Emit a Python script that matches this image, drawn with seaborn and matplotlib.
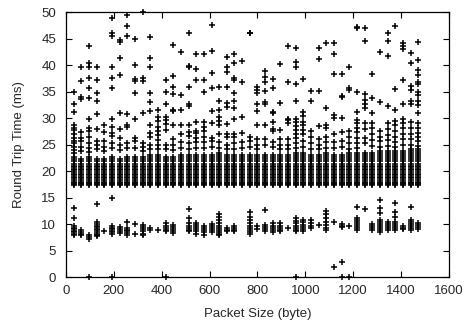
import matplotlib
matplotlib.use("Agg")
import matplotlib.pyplot as plt
import pandas as pd
import seaborn as sns

# Probe packet sizes (bytes), one column of measurements per size
sizes = [32, 64, 96, 128, 160, 192, 224, 256, 288, 320, 352, 384, 416, 448,
         480, 512, 544, 576, 608, 640, 672, 704, 736, 768, 800, 832, 864, 896,
         928, 960, 992, 1024, 1056, 1088, 1120, 1152, 1184, 1216, 1248, 1280,
         1312, 1344, 1376, 1408, 1440, 1472]

# RTT levels (ms) populated inside the dense main band
band_levels = [17.4, 17.6, 17.8, 18.0, 18.3, 18.6, 18.9, 19.2, 19.5, 19.8,
               20.1, 20.4, 20.7, 21.0, 21.4, 21.8, 22.2, 22.6, 23.0, 23.4,
               23.8, 24.2]

# Upper edge of the dense band for each packet size (ms)
band_top = [22.6, 22.4, 22.6, 22.5, 22.4, 22.6, 22.5, 22.8, 22.6, 22.8,
            23.0, 23.0, 22.8, 22.8, 23.0, 23.0, 23.2, 23.0, 23.2, 23.4,
            23.0, 23.2, 23.0, 23.0, 23.2, 23.0, 23.2, 23.0, 23.2, 23.4,
            23.4, 23.2, 23.0, 23.4, 23.2, 23.2, 23.4, 23.6, 23.6, 23.6,
            24.0, 23.8, 24.0, 24.0, 24.2, 24.4]

# Sparse delayed samples above the band (ms)
upper_rtt = [
    [35.0, 32.6, 31.2, 28.6, 28.2, 27.8, 26.9, 26.2, 25.6, 25.2, 24.6, 24.0, 23.4],
    [39.7, 36.9, 34.0, 33.5, 27.4, 26.2, 25.6, 24.6, 23.8],
    [43.6, 40.4, 39.7, 37.6, 35.7, 33.7, 29.8, 28.2, 27.5, 26.5, 25.2, 24.4, 23.6],
    [39.7, 37.1, 34.7, 33.3, 30.7, 27.9, 25.7, 25.0, 24.2],
    [28.7, 27.4, 25.6, 24.6, 23.8],
    [48.8, 46.0, 45.5, 39.6, 37.6, 35.6, 29.9, 28.3, 27.2, 26.6, 25.2, 24.4],
    [44.8, 44.4, 41.4, 38.1, 31.0, 28.0, 26.3, 25.0, 24.0],
    [49.4, 47.4, 45.5, 30.8, 28.7, 28.3, 25.2, 24.4],
    [45.0, 40.0, 37.3, 37.0, 34.7, 29.8, 26.2, 25.6, 24.4],
    [50.0, 37.5, 37.0, 30.9, 25.2, 24.6, 23.8],
    [45.2, 41.4, 39.6, 34.7, 33.1, 31.4, 28.7, 27.2, 26.5, 25.0, 24.2],
    [31.6, 30.1, 29.4, 28.3, 27.5, 26.8, 25.8, 25.0, 24.2],
    [37.2, 35.0, 32.7, 30.2, 29.6, 28.8, 27.8, 25.0, 24.2],
    [43.8, 37.9, 35.8, 34.6, 31.6, 31.3, 28.7, 26.0, 25.0, 24.0],
    [42.5, 34.4, 31.6, 28.7, 27.0, 25.4, 24.4],
    [46.0, 39.8, 39.6, 35.9, 32.6, 32.2, 28.6, 27.4, 26.6, 25.2, 24.2],
    [42.1, 39.3, 37.1, 29.3, 27.6, 27.2, 26.2, 25.5, 24.4],
    [42.1, 37.1, 34.9, 29.3, 28.3, 27.6, 26.4, 25.5, 24.4],
    [47.6, 42.7, 38.4, 35.7, 31.4, 29.1, 26.2, 25.6, 24.6],
    [35.8, 33.3, 31.6, 30.2, 29.4, 28.7, 27.0, 25.4, 24.4],
    [41.6, 39.7, 38.6, 35.8, 32.9, 32.0, 28.9, 27.0, 26.4, 25.0, 24.2],
    [42.1, 40.4, 37.5, 37.1, 34.8, 33.3, 31.9, 29.9, 27.0, 26.4, 25.2, 24.2],
    [40.7, 36.7, 30.1, 27.1, 25.4, 24.4],
    [46.1, 46.0, 26.5, 25.6, 24.6],
    [35.8, 35.3, 34.8, 32.6, 31.4, 28.7, 26.0, 25.0, 24.2],
    [38.9, 37.7, 36.7, 35.1, 33.1, 32.6, 28.6, 26.0, 25.0],
    [37.3, 35.7, 31.2, 30.9, 29.3, 27.9, 27.6, 25.5, 24.5],
    [40.2, 32.9, 27.8, 26.0, 25.0, 24.2],
    [43.6, 36.7, 29.9, 29.6, 29.0, 26.0, 25.0, 24.2],
    [43.2, 40.5, 39.7, 36.4, 33.3, 29.9, 29.3, 28.4, 27.8, 27.0, 26.2, 25.2, 24.4],
    [37.3, 31.1, 30.3, 29.3, 28.7, 27.7, 27.0, 25.6, 24.6],
    [35.1, 33.2, 27.6, 26.5, 25.2, 24.2],
    [43.3, 41.2, 35.1, 28.5, 26.0, 25.0, 24.2],
    [44.1, 31.8, 28.7, 28.1, 26.5, 25.4, 24.4],
    [44.1, 42.0, 38.3, 30.6, 30.0, 27.0, 25.4, 24.4],
    [38.3, 34.2, 33.9, 30.0, 27.3, 25.6, 24.6],
    [39.7, 35.6, 35.3, 27.6, 26.5, 25.2, 24.2],
    [47.2, 46.9, 35.0, 31.2, 29.6, 29.0, 28.2, 27.4, 26.2, 25.2, 24.4],
    [46.9, 44.5, 34.6, 33.4, 32.6, 31.8, 29.0, 27.9, 26.2, 25.2],
    [38.3, 33.7, 31.0, 29.0, 28.1, 27.0, 25.8, 24.8],
    [42.5, 33.1, 27.6, 26.5, 25.6, 24.6],
    [46.1, 44.6, 41.7, 32.2, 29.0, 27.9, 26.8, 25.8, 24.8],
    [47.3, 35.4, 31.6, 29.5, 28.7, 27.5, 26.5, 25.5, 24.6],
    [44.1, 43.6, 43.0, 37.1, 32.7, 29.9, 29.0, 28.1, 27.0, 26.0, 25.0],
    [42.3, 40.4, 36.0, 35.2, 33.2, 32.7, 29.3, 28.1, 27.0, 26.0, 25.0],
    [44.4, 40.9, 39.0, 38.1, 36.8, 36.4, 34.9, 34.3, 33.2, 32.4, 30.9, 29.0,
     28.1, 27.2, 26.4, 25.6, 24.8],
]

# Fast-path samples forming the lower cluster (ms)
lower_rtt = [
    [13.0, 11.1, 9.6, 9.3, 9.0, 8.7, 8.4, 8.1, 7.9],
    [8.9, 8.5, 8.2, 7.9],
    [8.0, 7.5, 7.1],
    [13.8, 10.4, 10.0, 9.7, 9.4, 9.1, 8.8, 8.5, 8.2, 7.9, 7.7],
    [8.6],
    [15.0, 9.7, 9.3, 9.0, 8.7, 8.4, 8.1],
    [9.5, 9.1, 8.6, 8.3],
    [10.3, 9.2, 8.9, 8.6, 8.3, 8.0],
    [10.0, 8.1],
    [9.8, 9.4, 9.0, 8.6, 8.2, 7.9],
    [9.2, 8.8],
    [8.9],
    [10.1, 9.6, 9.2, 8.9, 8.6],
    [9.9, 9.4, 9.0, 8.6, 8.3],
    [],
    [12.8, 11.1, 10.1, 9.6, 9.2, 8.9, 8.6],
    [10.2, 9.8, 9.4, 9.0, 8.6, 8.2],
    [9.6, 9.2, 8.8, 8.4, 8.0],
    [10.0, 9.6, 9.2, 8.8, 8.4],
    [11.9, 11.4, 10.8, 10.1, 9.7, 9.3, 8.9, 8.5, 8.1, 7.9],
    [9.2, 8.9, 8.6],
    [9.6, 9.2, 8.9, 8.6],
    [],
    [12.3, 11.4, 10.8, 10.1, 9.7, 9.3, 8.9, 8.5, 8.1],
    [9.6, 9.0],
    [12.7, 9.8, 9.4, 9.0, 8.6],
    [10.1, 9.7, 9.3, 8.9, 8.5],
    [10.1, 9.7, 9.3, 8.9, 8.6],
    [9.2],
    [11.2, 10.5, 10.1, 9.7, 9.3, 8.9, 8.6],
    [10.7, 10.3, 9.8, 9.4, 9.0, 8.6],
    [10.7, 10.2, 9.7, 9.3],
    [9.8],
    [12.5, 11.9, 11.1, 10.4, 9.8, 9.3, 8.9],
    [10.4],
    [10.0, 9.7, 9.4],
    [9.6],
    [13.2, 11.1, 10.8, 10.4, 10.0, 9.6, 9.2, 8.8],
    [12.8],
    [10.0, 9.6, 9.2, 8.9],
    [14.5, 13.0, 12.0, 10.8, 10.4, 10.0, 9.6, 9.2, 8.8, 8.5],
    [10.4, 10.0, 9.6, 9.2, 8.9],
    [14.0, 12.3, 11.4, 10.4, 10.0, 9.6, 9.2, 8.8],
    [9.6, 9.3, 9.0],
    [13.2, 10.8, 10.4, 10.0, 9.6, 9.2, 8.9],
    [10.2, 9.8, 9.4, 9.0],
]

# Near-zero readings
floor_size = [96, 192, 416, 960, 1120, 1152, 1152, 1184]
floor_rtt = [0.0, 0.0, 0.0, 0.0, 1.9, 2.9, 0.0, 0.0]

# Assemble long-form table
rows_x, rows_y = [], []
for i, sz in enumerate(sizes):
    for lv in band_levels:
        if lv <= band_top[i]:
            rows_x.append(sz)
            rows_y.append(lv)
    for v in upper_rtt[i] + lower_rtt[i]:
        rows_x.append(sz)
        rows_y.append(v)
rows_x += floor_size
rows_y += floor_rtt
df = pd.DataFrame({"Packet Size (byte)": rows_x, "Round Trip Time (ms)": rows_y})

sns.set_style("ticks")
plt.rcParams["font.family"] = ["Liberation Sans", "DejaVu Sans"]
plt.rcParams["xtick.direction"] = "in"
plt.rcParams["ytick.direction"] = "in"

fig = plt.figure(figsize=(4.72, 3.30), dpi=100)
ax = fig.add_axes([0.1398, 0.1606, 0.8114, 0.803])

sns.scatterplot(data=df, x="Packet Size (byte)", y="Round Trip Time (ms)",
                marker="+", color="black", s=13, linewidth=1.1, ax=ax,
                legend=False, clip_on=False)

ax.set_xlim(0, 1600)
ax.set_ylim(0, 50)
ax.set_xticks(range(0, 1601, 200))
ax.set_yticks(range(0, 51, 5))
ax.tick_params(axis="both", which="major", labelsize=9.5, length=4,
               width=0.8, top=True, right=True, color="black")
ax.tick_params(axis="x", pad=6)
ax.tick_params(axis="y", pad=7)
for sp in ax.spines.values():
    sp.set_linewidth(0.9)
    sp.set_color("black")
ax.set_xlabel("Packet Size (byte)", fontsize=9.5, labelpad=8)
ax.set_ylabel("Round Trip Time (ms)", fontsize=9.5, labelpad=12)

fig.savefig("out.png", dpi=100)
